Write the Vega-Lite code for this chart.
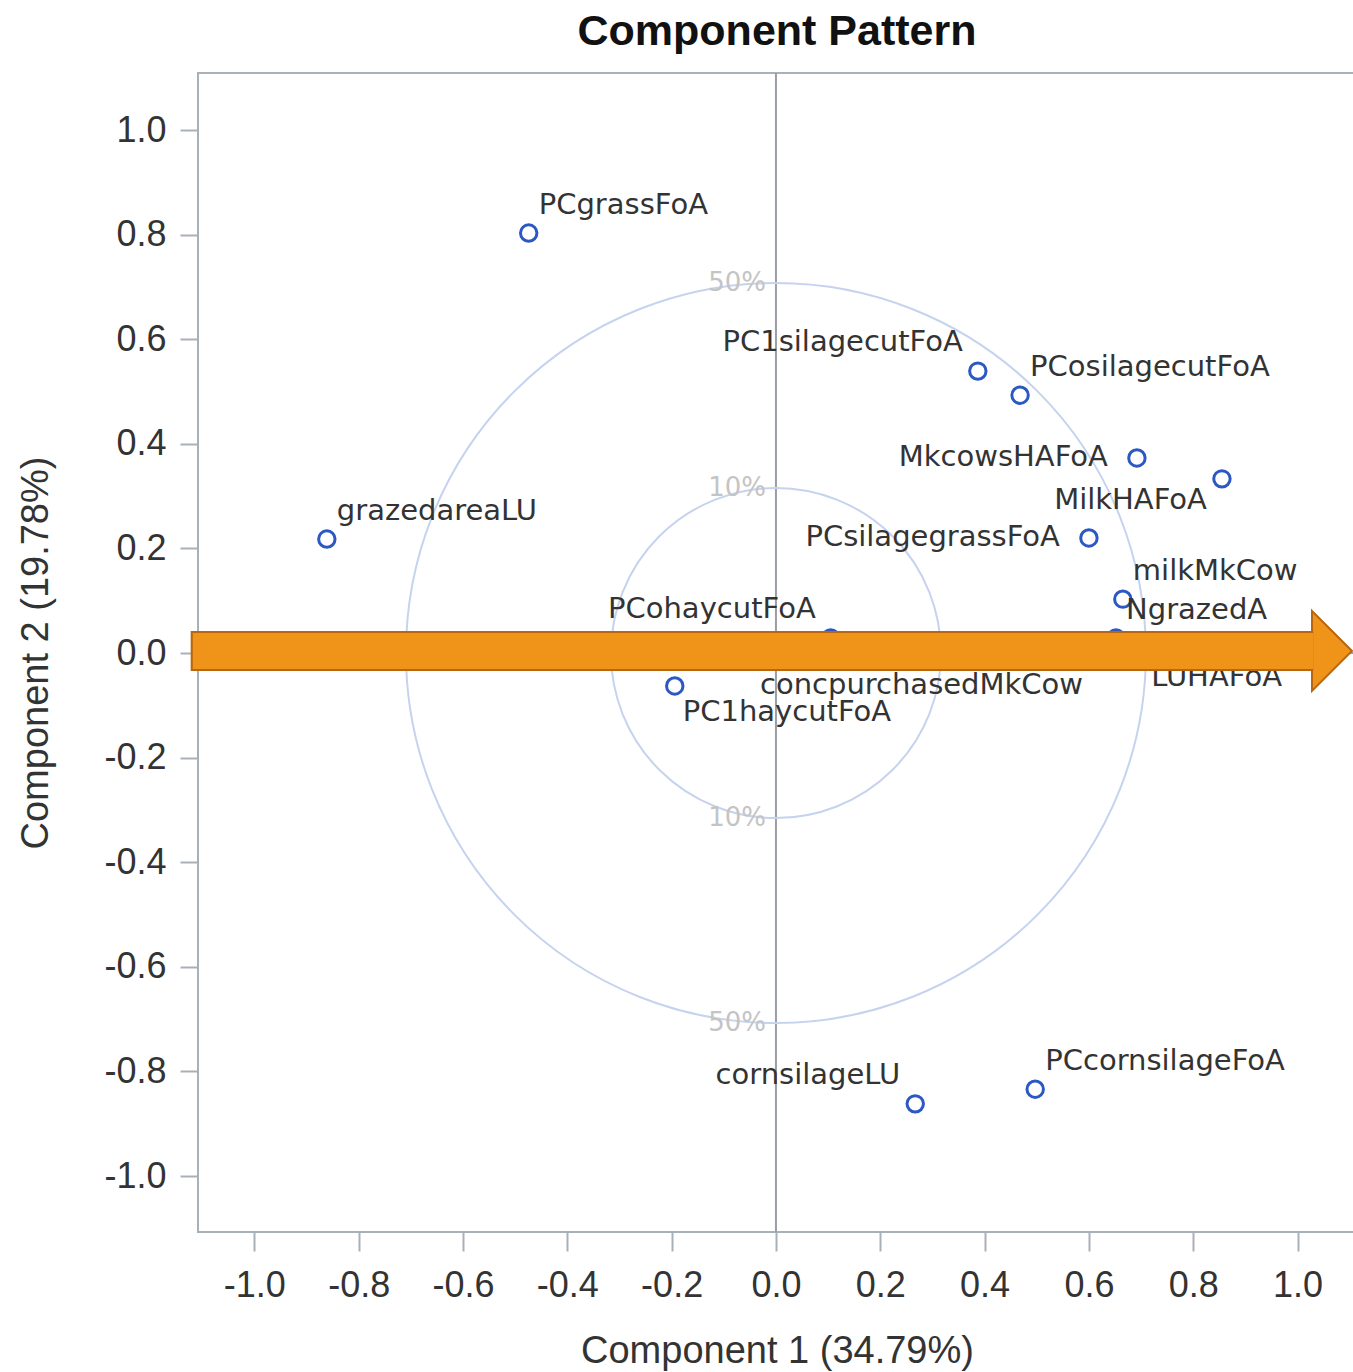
{
  "$schema": "https://vega.github.io/schema/vega-lite/v6.json",
  "autosize": "none",
  "width": 1158,
  "height": 1159,
  "padding": {"left": 198, "top": 73, "right": 0, "bottom": 140},
  "background": "white",
  "config": {
    "view": {"stroke": "#a8b0b8", "strokeWidth": 2},
    "font": "Liberation Sans"
  },
  "title": {
    "text": "Component Pattern",
    "font": "Liberation Sans",
    "fontSize": 43,
    "fontWeight": "bold",
    "color": "#111111",
    "anchor": "middle",
    "baseline": "alphabetic",
    "offset": -16
  },
  "datasets": {
    "loadings": [
      {"name": "PCgrassFoA", "c1": -0.474, "c2": 0.803, "pos": "AR"},
      {"name": "PC1silagecutFoA", "c1": 0.387, "c2": 0.539, "pos": "AL"},
      {"name": "PCosilagecutFoA", "c1": 0.468, "c2": 0.493, "pos": "AR"},
      {"name": "MkcowsHAFoA", "c1": 0.692, "c2": 0.373, "pos": "L"},
      {"name": "MilkHAFoA", "c1": 0.855, "c2": 0.333, "pos": "BL"},
      {"name": "grazedareaLU", "c1": -0.861, "c2": 0.218, "pos": "AR"},
      {"name": "PCsilagegrassFoA", "c1": 0.600, "c2": 0.220, "pos": "L"},
      {"name": "milkMkCow", "c1": 0.665, "c2": 0.103, "pos": "AR"},
      {"name": "NgrazedA", "c1": 0.652, "c2": 0.029, "pos": "AR"},
      {"name": "LUHAFoA", "c1": 0.704, "c2": 0.004, "pos": "BR"},
      {"name": "PCohaycutFoA", "c1": 0.105, "c2": 0.029, "pos": "AL"},
      {"name": "concpurchasedMkCow", "c1": -0.046, "c2": -0.011, "pos": "BR"},
      {"name": "PC1haycutFoA", "c1": -0.194, "c2": -0.063, "pos": "BR"},
      {"name": "cornsilageLU", "c1": 0.267, "c2": -0.862, "pos": "AL"},
      {"name": "PCcornsilageFoA", "c1": 0.497, "c2": -0.834, "pos": "AR"}
    ],
    "rings": [
      {"cx": 0, "cy": 0, "ring": "50%"},
      {"cx": 0, "cy": 0, "ring": "10%"}
    ],
    "ringLabels": [
      {"lx": 0, "ly": 0.7071, "txt": "50%"},
      {"lx": 0, "ly": 0.3162, "txt": "10%"},
      {"lx": 0, "ly": -0.3162, "txt": "10%"},
      {"lx": 0, "ly": -0.7071, "txt": "50%"}
    ],
    "zero": [{"z": 0}],
    "arrow": [{"ax1": -1.122, "ax1b": -1.118, "ax2": 1.03, "ay": 0.004, "hx": 1.066}]
  },
  "layer": [
    {
      "data": {"name": "zero"},
      "mark": {"type": "rule", "color": "#9a9ea4", "strokeWidth": 2},
      "encoding": {
        "x": {
          "field": "z", "type": "quantitative",
          "scale": {"domain": [-1.108, 1.112], "nice": false, "zero": false},
          "axis": {
            "values": [-1, -0.8, -0.6, -0.4, -0.2, 0, 0.2, 0.4, 0.6, 0.8, 1],
            "labelExpr": "replace(format(datum.value, '.1f'), '\u2212', '-')",
            "title": "Component 1 (34.79%)",
            "grid": false, "domain": false,
            "tickColor": "#a8b0b8", "tickWidth": 2, "tickSize": 19,
            "labelFont": "Liberation Sans", "labelFontSize": 36, "labelColor": "#333333",
            "labelPadding": 17,
            "titleFont": "Liberation Sans", "titleFontSize": 38, "titleFontWeight": "normal",
            "titleColor": "#333333", "titlePadding": 29
          }
        }
      }
    },
    {
      "data": {"name": "zero"},
      "mark": {"type": "rule", "color": "#9a9ea4", "strokeWidth": 2},
      "encoding": {
        "y": {
          "field": "z", "type": "quantitative",
          "scale": {"domain": [-1.107, 1.109], "nice": false, "zero": false},
          "axis": {
            "values": [-1, -0.8, -0.6, -0.4, -0.2, 0, 0.2, 0.4, 0.6, 0.8, 1],
            "labelExpr": "replace(format(datum.value, '.1f'), '\u2212', '-')",
            "title": "Component 2 (19.78%)",
            "grid": false, "domain": false,
            "tickColor": "#a8b0b8", "tickWidth": 2, "tickSize": 18,
            "labelFont": "Liberation Sans", "labelFontSize": 36, "labelColor": "#333333",
            "labelPadding": 14,
            "titleFont": "Liberation Sans", "titleFontSize": 38, "titleFontWeight": "normal",
            "titleColor": "#333333", "titlePadding": 48
          }
        }
      }
    },
    {
      "data": {"name": "rings"},
      "transform": [{"filter": "datum.ring == '50%'"}],
      "mark": {"type": "point", "shape": "circle", "filled": false, "stroke": "#c6d3ef", "strokeWidth": 2, "opacity": 1},
      "encoding": {
        "x": {"field": "cx", "type": "quantitative"},
        "y": {"field": "cy", "type": "quantitative"},
        "size": {"value": 547600}
      }
    },
    {
      "data": {"name": "rings"},
      "transform": [{"filter": "datum.ring == '10%'"}],
      "mark": {"type": "point", "shape": "circle", "filled": false, "stroke": "#c6d3ef", "strokeWidth": 2, "opacity": 1},
      "encoding": {
        "x": {"field": "cx", "type": "quantitative"},
        "y": {"field": "cy", "type": "quantitative"},
        "size": {"value": 108900}
      }
    },
    {
      "data": {"name": "ringLabels"},
      "mark": {"type": "text", "align": "right", "baseline": "middle", "dx": -10, "font": "DejaVu Sans", "fontSize": 26, "color": "#c4c4c4"},
      "encoding": {
        "x": {"field": "lx", "type": "quantitative"},
        "y": {"field": "ly", "type": "quantitative"},
        "text": {"field": "txt"}
      }
    },
    {
      "data": {"name": "loadings"},
      "mark": {"type": "point", "shape": "circle", "filled": false, "stroke": "#2c58c4", "strokeWidth": 3, "size": 270, "opacity": 1},
      "encoding": {
        "x": {"field": "c1", "type": "quantitative"},
        "y": {"field": "c2", "type": "quantitative"}
      }
    },
    {
      "data": {"name": "loadings"},
      "transform": [{"filter": "datum.pos == 'AR'"}],
      "mark": {"type": "text", "align": "left", "baseline": "middle", "dx": 10, "dy": -28, "font": "DejaVu Sans", "fontSize": 29, "color": "#333333"},
      "encoding": {
        "x": {"field": "c1", "type": "quantitative"},
        "y": {"field": "c2", "type": "quantitative"},
        "text": {"field": "name"}
      }
    },
    {
      "data": {"name": "loadings"},
      "transform": [{"filter": "datum.pos == 'AL'"}],
      "mark": {"type": "text", "align": "right", "baseline": "middle", "dx": -15, "dy": -29, "font": "DejaVu Sans", "fontSize": 29, "color": "#333333"},
      "encoding": {
        "x": {"field": "c1", "type": "quantitative"},
        "y": {"field": "c2", "type": "quantitative"},
        "text": {"field": "name"}
      }
    },
    {
      "data": {"name": "loadings"},
      "transform": [{"filter": "datum.pos == 'L'"}],
      "mark": {"type": "text", "align": "right", "baseline": "middle", "dx": -29, "dy": -1, "font": "DejaVu Sans", "fontSize": 29, "color": "#333333"},
      "encoding": {
        "x": {"field": "c1", "type": "quantitative"},
        "y": {"field": "c2", "type": "quantitative"},
        "text": {"field": "name"}
      }
    },
    {
      "data": {"name": "loadings"},
      "transform": [{"filter": "datum.pos == 'BL'"}],
      "mark": {"type": "text", "align": "right", "baseline": "middle", "dx": -15, "dy": 21, "font": "DejaVu Sans", "fontSize": 29, "color": "#333333"},
      "encoding": {
        "x": {"field": "c1", "type": "quantitative"},
        "y": {"field": "c2", "type": "quantitative"},
        "text": {"field": "name"}
      }
    },
    {
      "data": {"name": "loadings"},
      "transform": [{"filter": "datum.pos == 'BR'"}],
      "mark": {"type": "text", "align": "left", "baseline": "middle", "dx": 8, "dy": 26, "font": "DejaVu Sans", "fontSize": 29, "color": "#333333"},
      "encoding": {
        "x": {"field": "c1", "type": "quantitative"},
        "y": {"field": "c2", "type": "quantitative"},
        "text": {"field": "name"}
      }
    },
    {
      "data": {"name": "arrow"},
      "mark": {"type": "point", "shape": "M-0.5,-1L0.5,0L-0.5,1Z", "filled": true, "fill": "#ef9419", "stroke": "#b8660f", "strokeWidth": 2, "size": 6400, "opacity": 1, "fillOpacity": 1},
      "encoding": {
        "x": {"field": "hx", "type": "quantitative"},
        "y": {"field": "ay", "type": "quantitative"}
      }
    },
    {
      "data": {"name": "arrow"},
      "mark": {"type": "rule", "color": "#b8660f", "strokeWidth": 40, "strokeCap": "butt"},
      "encoding": {
        "x": {"field": "ax1", "type": "quantitative"},
        "x2": {"field": "ax2"},
        "y": {"field": "ay", "type": "quantitative"}
      }
    },
    {
      "data": {"name": "arrow"},
      "mark": {"type": "rule", "color": "#ef9419", "strokeWidth": 36, "strokeCap": "butt"},
      "encoding": {
        "x": {"field": "ax1b", "type": "quantitative"},
        "x2": {"field": "ax2"},
        "y": {"field": "ay", "type": "quantitative"}
      }
    }
  ]
}
